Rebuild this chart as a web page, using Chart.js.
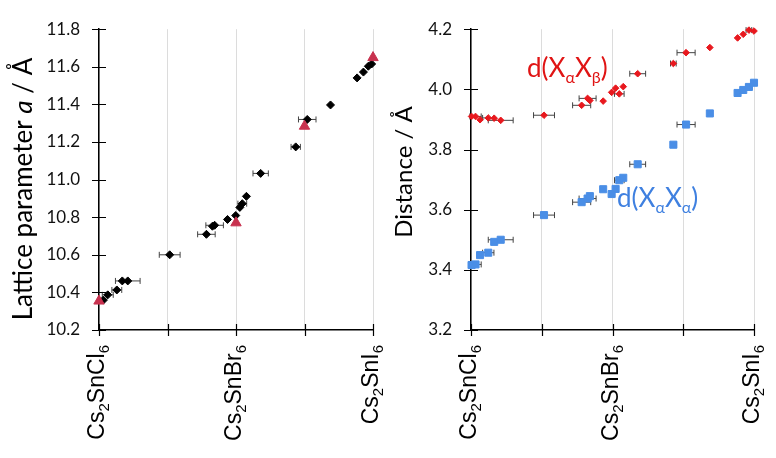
<!DOCTYPE html>
<html>
<head>
<meta charset="utf-8">
<script src="https://cdn.jsdelivr.net/npm/chart.js@4.4.1/dist/chart.umd.min.js"></script>
<style>
  body { margin: 0; background: #fff; }
  #wrap { position: relative; width: 776px; height: 458px; }
  canvas { position: absolute; top: 0; }
  #latChart { left: 0; }
  #distChart { left: 388px; }
</style>
</head>
<body>
<div id="wrap">
  <canvas id="latChart" width="388" height="458"></canvas>
  <canvas id="distChart" width="388" height="458"></canvas>
</div>
<script>
/* ============================================
   DATA
   composition axis: 0 = Cs2SnCl6, 0.5 = Cs2SnBr6, 1 = Cs2SnI6
   ============================================ */
const categories = ['Cs2SnCl6', 'Cs2SnBr6', 'Cs2SnI6'];
const categoryPos = [0, 0.5, 1];

// left panel - lattice parameter (black diamonds, with x error)
const latX   = [0.016, 0.032, 0.065, 0.085, 0.105, 0.258, 0.392, 0.414, 0.422, 0.469, 0.499,
                0.514, 0.523, 0.538, 0.590, 0.718, 0.760, 0.845, 0.942, 0.965, 0.983, 0.995];
const latA   = [10.359, 10.387, 10.413, 10.461, 10.461, 10.600, 10.709, 10.752, 10.757, 10.788, 10.809,
                10.852, 10.872, 10.911, 11.033, 11.174, 11.320, 11.397, 11.541, 11.572, 11.603, 11.615];
const latErr = [0, 0.02, 0.018, 0, 0.045, 0.038, 0.032, 0, 0.032, 0, 0,
                0, 0.016, 0, 0.028, 0.017, 0.032, 0, 0, 0, 0, 0];

// left panel - end members / reference (red triangles)
const refX = [0, 0.5, 0.75, 1.0];
const refA = [10.354, 10.770, 11.284, 11.649];

// right panel - halide-halide distances
const distX   = [0.002, 0.016, 0.032, 0.061, 0.082, 0.105, 0.258, 0.391, 0.412, 0.420, 0.467, 0.497,
                 0.511, 0.524, 0.538, 0.589, 0.715, 0.760, 0.844, 0.942, 0.962, 0.982, 1.0];
const dAB     = [3.910, 3.910, 3.899, 3.905, 3.904, 3.897, 3.914, 3.947, 3.970, 3.963, 3.961, 3.990,
                 4.004, 3.985, 4.009, 4.052, 4.086, 4.122, 4.139, 4.171, 4.183, 4.197, 4.194];
const dAA     = [3.416, 3.418, 3.449, 3.457, 3.493, 3.500, 3.582, 3.625, 3.637, 3.645, 3.668, 3.652,
                 3.669, 3.698, 3.706, 3.751, 3.816, 3.883, 3.920, 3.988, 3.998, 4.008, 4.022];
const distErr = [0, 0.02, 0, 0.02, 0, 0.044, 0.037, 0.032, 0.03, 0, 0, 0,
                 0, 0.017, 0, 0.028, 0.01, 0.032, 0, 0, 0, 0.01, 0];

// y axis ranges [min, max, step]
const latRange  = [10.2, 11.8, 0.2];
const distRange = [3.2, 4.2, 0.2];

const pts = (xs, ys) => xs.map((x, i) => ({ x: x, y: ys[i] }));

/* ============================================
   DRAWING HELPERS
   ============================================ */
const TITLE_FONT = 'Lato, "Open Sans", sans-serif';
const CAT_FONT = '"Liberation Sans", Arial, sans-serif';

// draw a run of text pieces with different fonts / offsets
function drawRun(ctx, parts, x, y, align) {
  let total = 0;
  parts.forEach(p => { ctx.font = p.font; p.w = ctx.measureText(p.t).width; total += p.w; });
  let cx = align === 'center' ? x - total / 2 : (align === 'right' ? x - total : x);
  ctx.textAlign = 'left';
  ctx.textBaseline = 'alphabetic';
  parts.forEach(p => {
    ctx.font = p.font;
    ctx.fillText(p.t, cx, y + (p.dy || 0));
    cx += p.w;
  });
}

// chemical formula -> digits as subscripts
function formulaParts(name) {
  return name.split(/(\d+)/).filter(s => s).map(s => /\d/.test(s)
    ? { t: s, font: '15px ' + CAT_FONT, dy: 5 }
    : { t: s, font: '23px ' + CAT_FONT });
}

const errorBars = {
  id: 'errorBars',
  beforeDatasetsDraw(chart) {
    const { ctx, scales: { x, y } } = chart;
    ctx.save();
    ctx.strokeStyle = '#444';
    ctx.lineWidth = 1;
    chart.data.datasets.forEach(ds => {
      if (!ds.xErr) return;
      ds.data.forEach((p, i) => {
        const e = ds.xErr[i];
        if (!e) return;
        const x0 = x.getPixelForValue(p.x - e);
        const x1 = x.getPixelForValue(p.x + e);
        const py = y.getPixelForValue(p.y);
        ctx.beginPath();
        ctx.moveTo(x0, py); ctx.lineTo(x1, py);
        ctx.moveTo(x0, py - 3); ctx.lineTo(x0, py + 3);
        ctx.moveTo(x1, py - 3); ctx.lineTo(x1, py + 3);
        ctx.stroke();
      });
    });
    ctx.restore();
  }
};

function makeDecor(cfg) {
  return {
    id: 'decor',
    afterDraw(chart) {
      const { ctx, chartArea: a, scales: { x, y } } = chart;
      ctx.save();
      // cross ticks
      ctx.strokeStyle = '#000';
      ctx.lineWidth = 1.2;
      ctx.beginPath();
      y.ticks.forEach(t => {
        const py = Math.round(y.getPixelForValue(t.value)) + 0.5;
        ctx.moveTo(a.left - 7, py); ctx.lineTo(a.left + 7, py);
      });
      x.ticks.forEach(t => {
        const px = Math.round(x.getPixelForValue(t.value)) + 0.5;
        ctx.moveTo(px, a.bottom - 6); ctx.lineTo(px, a.bottom + 6);
      });
      ctx.stroke();

      // rotated category labels
      ctx.fillStyle = '#000';
      categories.forEach((name, i) => {
        ctx.save();
        ctx.translate(x.getPixelForValue(categoryPos[i]), a.bottom + 15);
        ctx.rotate(-Math.PI / 2);
        drawRun(ctx, formulaParts(name), 0, 5, 'right');
        ctx.restore();
      });

      // y axis title
      ctx.save();
      ctx.translate(cfg.titleX, cfg.titleY);
      ctx.rotate(-Math.PI / 2);
      drawRun(ctx, cfg.title, 0, 0, 'center');
      ctx.restore();

      // series notes
      (cfg.notes || []).forEach(n => {
        ctx.fillStyle = n.color;
        drawRun(ctx, n.parts, x.getPixelForValue(n.at[0]), y.getPixelForValue(n.at[1]), 'left');
      });
      ctx.restore();
    }
  };
}

function baseOptions(range, yWidth, padTop, padRight) {
  return {
    responsive: false,
    animation: false,
    devicePixelRatio: 1,
    layout: { padding: { top: padTop, right: padRight, left: 0, bottom: 0 } },
    plugins: { legend: { display: false }, tooltip: { enabled: false } },
    scales: {
      x: {
        type: 'linear',
        min: 0, max: 1,
        ticks: { stepSize: 0.25, display: false },
        grid: { color: '#dcdcdc', lineWidth: 1, drawTicks: false },
        border: { display: true, color: '#000', width: 1.5 },
        afterFit(scale) { scale.height = 128; }
      },
      y: {
        min: range[0], max: range[1],
        ticks: {
          stepSize: range[2],
          padding: 19,
          color: '#111',
          font: { family: TITLE_FONT, size: 17 },
          callback: v => v.toFixed(1)
        },
        grid: { display: false, drawTicks: false },
        border: { display: true, color: '#000', width: 1.5 },
        afterFit(scale) { scale.width = yWidth; }
      }
    }
  };
}

function noteParts(sub1, sub2) {
  return [
    { t: 'd(X', font: '26px ' + TITLE_FONT },
    { t: sub1, font: '16px ' + TITLE_FONT, dy: 6 },
    { t: 'X', font: '26px ' + TITLE_FONT },
    { t: sub2, font: '16px ' + TITLE_FONT, dy: 6 },
    { t: ')', font: '26px ' + TITLE_FONT }
  ];
}

/* ============================================
   LEFT: LATTICE PARAMETER
   ============================================ */
new Chart(document.getElementById('latChart').getContext('2d'), {
  type: 'scatter',
  data: {
    datasets: [
      {
        data: pts(refX, refA),
        pointStyle: 'triangle',
        pointRadius: 6,
        backgroundColor: '#c8324f',
        borderColor: '#c8324f',
        borderWidth: 1,
        clip: false
      },
      {
        data: pts(latX, latA),
        xErr: latErr,
        pointStyle: 'rectRot',
        pointRadius: 4,
        backgroundColor: '#000',
        borderColor: '#000',
        borderWidth: 1,
        clip: false
      }
    ]
  },
  options: baseOptions(latRange, 99, 18, 15),
  plugins: [errorBars, makeDecor({
    titleX: 32, titleY: 189,
    title: [
      { t: 'Lattice parameter ', font: '26px ' + TITLE_FONT },
      { t: 'a', font: 'italic 26px ' + TITLE_FONT },
      { t: ' / Å', font: '26px ' + TITLE_FONT }
    ]
  })]
});

/* ============================================
   RIGHT: X-X DISTANCES
   ============================================ */
new Chart(document.getElementById('distChart').getContext('2d'), {
  type: 'scatter',
  data: {
    datasets: [
      {
        data: pts(distX, dAB),
        xErr: distErr,
        pointStyle: 'rectRot',
        pointRadius: 3.3,
        backgroundColor: '#e8181e',
        borderColor: '#e8181e',
        borderWidth: 1,
        clip: false
      },
      {
        data: pts(distX, dAA),
        xErr: distErr,
        pointStyle: 'rect',
        pointRadius: 5,
        backgroundColor: '#4a8ee6',
        borderColor: '#4a8ee6',
        borderWidth: 1,
        clip: false
      }
    ]
  },
  options: baseOptions(distRange, 83, 19, 22),
  plugins: [errorBars, makeDecor({
    titleX: 24, titleY: 172,
    title: [{ t: 'Distance / Å', font: '24px ' + TITLE_FONT }],
    notes: [
      { color: '#e01414', at: [0.198, 4.042], parts: noteParts('α', 'β') },
      { color: '#3f80e0', at: [0.516, 3.608], parts: noteParts('α', 'α') }
    ]
  })]
});
</script>
</body>
</html>
